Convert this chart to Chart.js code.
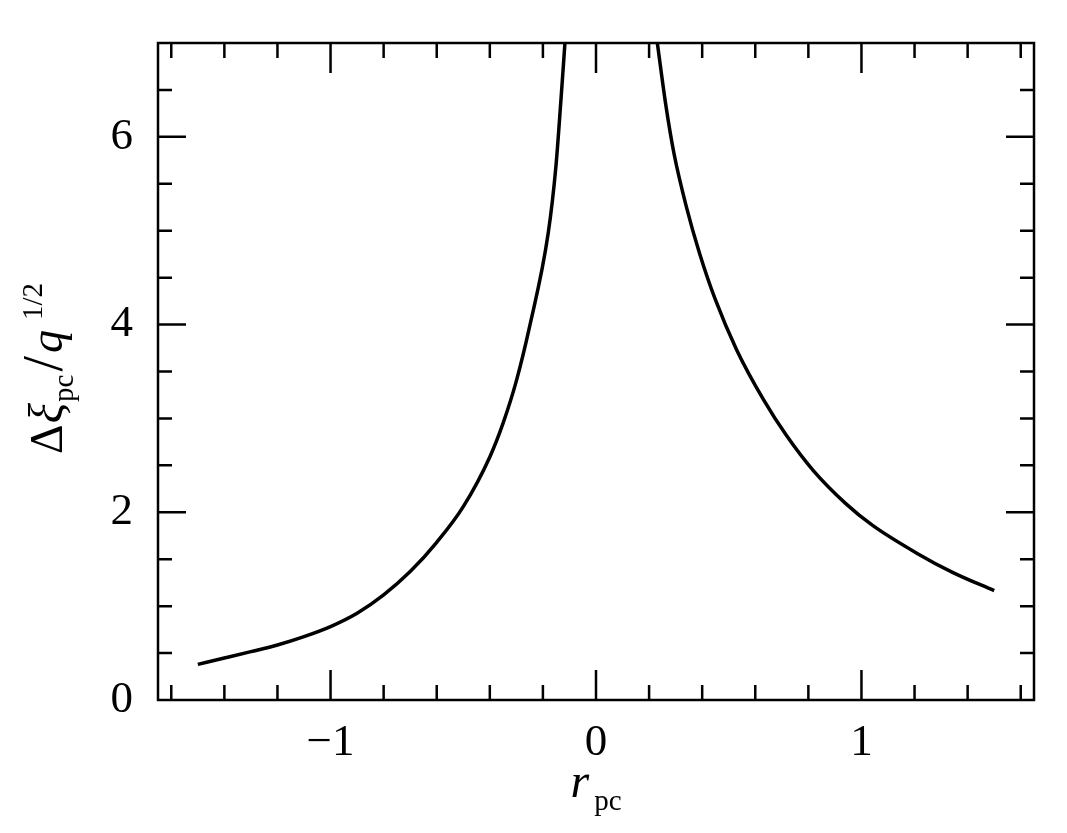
<!DOCTYPE html>
<html>
<head>
<meta charset="utf-8">
<script src="https://cdn.jsdelivr.net/npm/chart.js@4.4.1/dist/chart.umd.min.js"></script>
<style>
  html, body { margin: 0; padding: 0; background: #fff; }
  #wrap { width: 1067px; height: 833px; position: relative; }
</style>
</head>
<body>
<div id="wrap"><canvas id="xiChart"></canvas></div>
<script>
// branch for r_pc < 0
const leftR  = [-1.5, -1.4, -1.3, -1.2, -1.1, -1.0, -0.9, -0.8, -0.7, -0.6, -0.5, -0.4, -0.35, -0.3, -0.25, -0.18, -0.151, -0.132, -0.117];
const leftXi = [0.38, 0.447, 0.515, 0.586, 0.675, 0.782, 0.924, 1.12, 1.368, 1.68, 2.06, 2.59, 2.95, 3.40, 3.98, 4.975, 5.686, 6.397, 7.0];

// branch for r_pc > 0
const rightR  = [0.231, 0.264, 0.294, 0.34, 0.39, 0.449, 0.53, 0.631, 0.717, 0.817, 0.942, 1.042, 1.205, 1.343, 1.5];
const rightXi = [7.0, 6.32, 5.82, 5.26, 4.76, 4.27, 3.73, 3.20, 2.82, 2.45, 2.09, 1.86, 1.57, 1.36, 1.165];

// axes
const xTickLabels = [-1, 0, 1];
const yTickLabels = [0, 2, 4, 6];
const xRange = [-1.65, 1.65];
const yRange = [0, 7];
const xMinorStep = 0.2;
const yMinorStep = 0.5;

const serif = "'Liberation Serif', 'DejaVu Serif', serif";

function toPoints(xs, ys) {
  return xs.map((x, i) => ({ x: x, y: ys[i] }));
}

// box round the plot with inward ticks on all four sides
const framePlugin = {
  id: 'frame',
  afterDraw(chart) {
    const ctx = chart.ctx;
    const a = chart.chartArea;
    const xs = chart.scales.x;
    const ys = chart.scales.y;
    ctx.save();
    ctx.strokeStyle = '#000';
    ctx.lineWidth = 2.5;
    ctx.strokeRect(a.left, a.top, a.right - a.left, a.bottom - a.top);

    ctx.beginPath();
    for (let i = Math.ceil(xRange[0] / xMinorStep); i <= Math.floor(xRange[1] / xMinorStep); i++) {
      const v = i * xMinorStep;
      const major = Math.abs(v - Math.round(v)) < 1e-6;
      const len = major ? 30 : 15;
      const px = xs.getPixelForValue(v);
      ctx.moveTo(px, a.bottom); ctx.lineTo(px, a.bottom - len);
      ctx.moveTo(px, a.top); ctx.lineTo(px, a.top + len);
    }
    for (let i = 1; i < Math.round(yRange[1] / yMinorStep); i++) {
      const v = i * yMinorStep;
      const major = yTickLabels.includes(v);
      const len = major ? 28 : 14;
      const py = ys.getPixelForValue(v);
      ctx.moveTo(a.left, py); ctx.lineTo(a.left + len, py);
      ctx.moveTo(a.right, py); ctx.lineTo(a.right - len, py);
    }
    ctx.stroke();
    ctx.restore();
  }
};

function drawRich(ctx, pieces, cx, baseY) {
  let total = 0;
  pieces.forEach(p => {
    ctx.font = p.font;
    p.w = ctx.measureText(p.text).width;
    total += p.w + (p.gap || 0);
  });
  let x = cx - total / 2;
  ctx.textAlign = 'left';
  ctx.textBaseline = 'alphabetic';
  pieces.forEach(p => {
    ctx.font = p.font;
    ctx.fillText(p.text, x, baseY + (p.dy || 0));
    x += p.w + (p.gap || 0);
  });
}

// axis titles with sub/superscripts
const titlePlugin = {
  id: 'axisTitles',
  afterDraw(chart) {
    const ctx = chart.ctx;
    const a = chart.chartArea;
    ctx.save();
    ctx.fillStyle = '#000';

    drawRich(ctx, [
      { text: 'r', font: 'italic 48px ' + serif, gap: 5 },
      { text: 'pc', font: '29px ' + serif, dy: 13 }
    ], (a.left + a.right) / 2, a.bottom + 97);

    ctx.translate(a.left - 96, (a.top + a.bottom) / 2 - 3);
    ctx.rotate(-Math.PI / 2);
    drawRich(ctx, [
      { text: 'Δ', font: '46px ' + serif, gap: 1 },
      { text: 'ξ', font: 'italic 48px ' + serif, gap: 1 },
      { text: 'pc', font: '29px ' + serif, dy: 11, gap: 3 },
      { text: '/', font: '56px ' + serif, gap: 3 },
      { text: 'q', font: 'italic 46px ' + serif, gap: 10 },
      { text: '1/2', font: '29px ' + serif, dy: -20 }
    ], 0, 0);
    ctx.restore();
  }
};

function fmt(v) {
  return v < 0 ? '\u2212' + Math.abs(v) : String(v);
}

// keep the plot box where the layout padding puts it
function noLabelPadding(s) {
  s.paddingTop = 0;
  s.paddingBottom = 0;
  s.paddingLeft = 0;
  s.paddingRight = 0;
}

const lineStyle = {
  borderColor: '#000',
  borderWidth: 3.5,
  pointRadius: 0,
  cubicInterpolationMode: 'monotone',
  fill: false
};

new Chart(document.getElementById('xiChart'), {
  type: 'line',
  data: {
    datasets: [
      Object.assign({ data: toPoints(leftR, leftXi) }, lineStyle),
      Object.assign({ data: toPoints(rightR, rightXi) }, lineStyle)
    ]
  },
  options: {
    responsive: true,
    maintainAspectRatio: false,
    animation: false,
    layout: { padding: { left: 0, top: 43, right: 33, bottom: 0 } },
    plugins: {
      legend: { display: false },
      tooltip: { enabled: false }
    },
    scales: {
      x: {
        type: 'linear',
        min: xRange[0],
        max: xRange[1],
        afterBuildTicks: s => { s.ticks = xTickLabels.map(v => ({ value: v })); },
        afterFit: s => { s.height = 133; noLabelPadding(s); },
        grid: { display: false, drawTicks: false },
        border: { display: false },
        ticks: {
          padding: 16,
          color: '#000',
          font: { family: serif, size: 45 },
          maxRotation: 0,
          callback: v => fmt(v)
        }
      },
      y: {
        type: 'linear',
        min: yRange[0],
        max: yRange[1],
        afterBuildTicks: s => { s.ticks = yTickLabels.map(v => ({ value: v })); },
        afterFit: s => { s.width = 158; noLabelPadding(s); },
        grid: { display: false, drawTicks: false },
        border: { display: false },
        ticks: {
          padding: 25,
          color: '#000',
          font: { family: serif, size: 45 },
          callback: v => fmt(v)
        }
      }
    }
  },
  plugins: [framePlugin, titlePlugin]
});
</script>
</body>
</html>
